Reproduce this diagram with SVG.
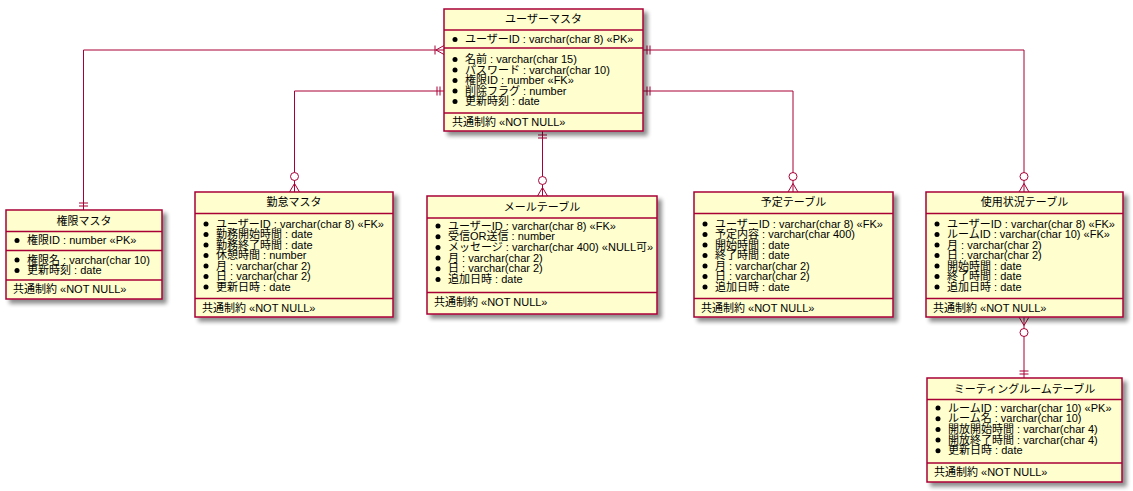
<svg xmlns="http://www.w3.org/2000/svg" width="1133" height="491" viewBox="0 0 1133 491">
<style>
text{font-family:"Liberation Sans","Noto Sans CJK JP",sans-serif;font-size:11px;fill:#000}
.t{text-anchor:middle}
.box{fill:#FEFECE;stroke:#A80036;stroke-width:1.5;filter:url(#sh)}
.sep{stroke:#A80036;stroke-width:1.5}
.b{fill:#000}
.c{fill:none;stroke:#A80036;stroke-width:1}
</style>
<defs>
<filter id="sh" x="-10%" y="-10%" width="130%" height="130%">
<feGaussianBlur in="SourceAlpha" stdDeviation="2" result="bl"/>
<feOffset in="bl" dx="4" dy="4" result="of"/>
<feComponentTransfer in="of" result="s"><feFuncA type="linear" slope="0.45"/></feComponentTransfer>
<feMerge><feMergeNode in="s"/><feMergeNode in="SourceGraphic"/></feMerge>
</filter>
<marker id="one" markerUnits="userSpaceOnUse" orient="auto-start-reverse" refX="0" refY="0" markerWidth="20" markerHeight="20" overflow="visible">
<path d="M-4,-4.5V4.5M-7,-4.5V4.5" fill="none" stroke="#A80036" stroke-width="1"/>
</marker>
<marker id="zm" markerUnits="userSpaceOnUse" orient="auto-start-reverse" refX="0" refY="0" markerWidth="30" markerHeight="20" overflow="visible">
<path d="M0,-5L-8.5,0L0,5" fill="none" stroke="#A80036" stroke-width="1"/>
<circle cx="-15.5" cy="0" r="4" fill="#FFFFFF" stroke="#A80036" stroke-width="1"/>
</marker>
<marker id="om" markerUnits="userSpaceOnUse" orient="auto-start-reverse" refX="0" refY="0" markerWidth="20" markerHeight="20" overflow="visible">
<path d="M0,-4.5L-8,0L0,4.5M-9,-4.5V4.5" fill="none" stroke="#A80036" stroke-width="1"/>
</marker>
</defs>
<rect width="1133" height="491" fill="#FFFFFF"/>

<g id="connectors">
<path class="c" d="M444,50H83.5V210" marker-start="url(#om)" marker-end="url(#one)"/>
<path class="c" d="M444,91H294.5V192" marker-start="url(#one)" marker-end="url(#zm)"/>
<path class="c" d="M542.5,131V196" marker-start="url(#one)" marker-end="url(#zm)"/>
<path class="c" d="M643,91H793V192" marker-start="url(#one)" marker-end="url(#zm)"/>
<path class="c" d="M643,50H1024V192" marker-start="url(#one)" marker-end="url(#zm)"/>
<path class="c" d="M1024,317V378" marker-start="url(#zm)" marker-end="url(#one)"/>
</g>

<g id="user_master">
<rect class="box" x="444" y="9" width="199" height="122"/>
<path class="sep" d="M444,30H643M444,48H643M444,113H643"/>
<text class="t" x="543.5" y="23">ユーザーマスタ</text>
<circle class="b" cx="455" cy="39.5" r="2.5"/><text x="465" y="43">ユーザーID : varchar(char 8) «PK»</text>
<circle class="b" cx="455" cy="59.5" r="2.5"/><text x="465" y="63">名前 : varchar(char 15)</text>
<circle class="b" cx="455" cy="70" r="2.5"/><text x="465" y="73.5">パスワード : varchar(char 10)</text>
<circle class="b" cx="455" cy="80.5" r="2.5"/><text x="465" y="84">権限ID : number «FK»</text>
<circle class="b" cx="455" cy="91" r="2.5"/><text x="465" y="94.5">削除フラグ : number</text>
<circle class="b" cx="455" cy="101.5" r="2.5"/><text x="465" y="105">更新時刻 : date</text>
<text x="452" y="125.5">共通制約 «NOT NULL»</text>
</g>

<g id="kengen_master">
<rect class="box" x="6" y="210" width="156" height="89"/>
<path class="sep" d="M6,231.5H162M6,250.5H162M6,280H162"/>
<text class="t" x="84" y="225">権限マスタ</text>
<circle class="b" cx="17" cy="240.5" r="2.5"/><text x="27" y="244">権限ID : number «PK»</text>
<circle class="b" cx="17" cy="260" r="2.5"/><text x="27" y="263.5">権限名 : varchar(char 10)</text>
<circle class="b" cx="17" cy="270.5" r="2.5"/><text x="27" y="274">更新時刻 : date</text>
<text x="13" y="293">共通制約 «NOT NULL»</text>
</g>

<g id="kintai_master">
<rect class="box" x="195" y="192" width="198" height="125"/>
<path class="sep" d="M195,213.5H393M195,298.5H393"/>
<text class="t" x="294" y="206">勤怠マスタ</text>
<circle class="b" cx="206" cy="224" r="2.5"/><text x="216" y="227.5">ユーザーID : varchar(char 8) «FK»</text>
<circle class="b" cx="206" cy="234.5" r="2.5"/><text x="216" y="238">勤務開始時間 : date</text>
<circle class="b" cx="206" cy="245" r="2.5"/><text x="216" y="248.5">勤務終了時間 : date</text>
<circle class="b" cx="206" cy="255.5" r="2.5"/><text x="216" y="259">休憩時間 : number</text>
<circle class="b" cx="206" cy="266" r="2.5"/><text x="216" y="269.5">月 : varchar(char 2)</text>
<circle class="b" cx="206" cy="276.5" r="2.5"/><text x="216" y="280">日 : varchar(char 2)</text>
<circle class="b" cx="206" cy="287" r="2.5"/><text x="216" y="290.5">更新日時 : date</text>
<text x="202" y="311.5">共通制約 «NOT NULL»</text>
</g>

<g id="mail_table">
<rect class="box" x="427" y="196" width="230" height="118"/>
<path class="sep" d="M427,218H657M427,292.5H657"/>
<text class="t" x="542" y="210.5">メールテーブル</text>
<circle class="b" cx="438" cy="226" r="2.5"/><text x="448" y="229.5">ユーザーID : varchar(char 8) «FK»</text>
<circle class="b" cx="438" cy="236.7" r="2.5"/><text x="448" y="240.2">受信OR送信 : number</text>
<circle class="b" cx="438" cy="247.4" r="2.5"/><text x="448" y="250.9">メッセージ : varchar(char 400) «NULL可»</text>
<circle class="b" cx="438" cy="258.1" r="2.5"/><text x="448" y="261.6">月 : varchar(char 2)</text>
<circle class="b" cx="438" cy="268.8" r="2.5"/><text x="448" y="272.3">日 : varchar(char 2)</text>
<circle class="b" cx="438" cy="279.5" r="2.5"/><text x="448" y="283">追加日時 : date</text>
<text x="434" y="305.5">共通制約 «NOT NULL»</text>
</g>

<g id="yotei_table">
<rect class="box" x="694" y="192" width="199" height="125"/>
<path class="sep" d="M694,213.5H893M694,298.5H893"/>
<text class="t" x="793.5" y="206">予定テーブル</text>
<circle class="b" cx="705" cy="224" r="2.5"/><text x="715" y="227.5">ユーザーID : varchar(char 8) «FK»</text>
<circle class="b" cx="705" cy="234.5" r="2.5"/><text x="715" y="238">予定内容 : varchar(char 400)</text>
<circle class="b" cx="705" cy="245" r="2.5"/><text x="715" y="248.5">開始時間 : date</text>
<circle class="b" cx="705" cy="255.5" r="2.5"/><text x="715" y="259">終了時間 : date</text>
<circle class="b" cx="705" cy="266" r="2.5"/><text x="715" y="269.5">月 : varchar(char 2)</text>
<circle class="b" cx="705" cy="276.5" r="2.5"/><text x="715" y="280">日 : varchar(char 2)</text>
<circle class="b" cx="705" cy="287" r="2.5"/><text x="715" y="290.5">追加日時 : date</text>
<text x="701" y="311.5">共通制約 «NOT NULL»</text>
</g>

<g id="shiyou_table">
<rect class="box" x="926" y="192" width="197" height="125"/>
<path class="sep" d="M926,213.5H1123M926,298.5H1123"/>
<text class="t" x="1024.5" y="206">使用状況テーブル</text>
<circle class="b" cx="937" cy="224" r="2.5"/><text x="947" y="227.5">ユーザーID : varchar(char 8) «FK»</text>
<circle class="b" cx="937" cy="234.5" r="2.5"/><text x="947" y="238">ルームID : varchar(char 10) «FK»</text>
<circle class="b" cx="937" cy="245" r="2.5"/><text x="947" y="248.5">月 : varchar(char 2)</text>
<circle class="b" cx="937" cy="255.5" r="2.5"/><text x="947" y="259">日 : varchar(char 2)</text>
<circle class="b" cx="937" cy="266" r="2.5"/><text x="947" y="269.5">開始時間 : date</text>
<circle class="b" cx="937" cy="276.5" r="2.5"/><text x="947" y="280">終了時間 : date</text>
<circle class="b" cx="937" cy="287" r="2.5"/><text x="947" y="290.5">追加日時 : date</text>
<text x="933" y="311.5">共通制約 «NOT NULL»</text>
</g>

<g id="meeting_room_table">
<rect class="box" x="927" y="378" width="195" height="104"/>
<path class="sep" d="M927,399.5H1122M927,463H1122"/>
<text class="t" x="1024.5" y="392.5">ミーティングルームテーブル</text>
<circle class="b" cx="938" cy="408" r="2.5"/><text x="948" y="411.5">ルームID : varchar(char 10) «PK»</text>
<circle class="b" cx="938" cy="418.7" r="2.5"/><text x="948" y="422.2">ルーム名 : varchar(char 10)</text>
<circle class="b" cx="938" cy="429.4" r="2.5"/><text x="948" y="432.9">開放開始時間 : varchar(char 4)</text>
<circle class="b" cx="938" cy="440.1" r="2.5"/><text x="948" y="443.6">開放終了時間 : varchar(char 4)</text>
<circle class="b" cx="938" cy="450.8" r="2.5"/><text x="948" y="454.3">更新日時 : date</text>
<text x="934" y="476">共通制約 «NOT NULL»</text>
</g>
</svg>
